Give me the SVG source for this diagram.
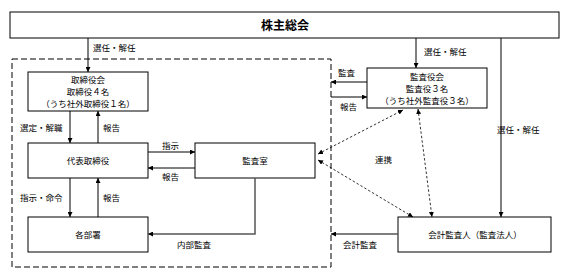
<svg xmlns="http://www.w3.org/2000/svg" width="569" height="274" viewBox="0 0 569 274">
<style>
.box{fill:#fff;stroke:#000;stroke-width:1}
.t{font-family:"Noto Sans CJK JP","Noto Sans CJK SC",sans-serif;font-size:8.5px;fill:#000}
.c{text-anchor:middle}
.ln{fill:none;stroke:#000;stroke-width:1}
.gr{fill:none;stroke:#555;stroke-width:1.5}
.dot{fill:none;stroke:#000;stroke-width:0.8;stroke-dasharray:2.5,2}
.dash{fill:none;stroke:#000;stroke-width:1;stroke-dasharray:6,3}
</style>
<defs>
<marker id="ah" viewBox="0 0 10 10" refX="10" refY="5" markerWidth="5" markerHeight="5" orient="auto-start-reverse" markerUnits="userSpaceOnUse">
<path d="M0,0 L10,5 L0,10 z" fill="#000"/>
</marker>
</defs>
<rect class="dash" x="12" y="59" width="319" height="208"/>
<g id="shareholders"><rect class="box" x="10" y="12" width="549" height="26"/><text class="t c" x="285" y="29.5" style="font-size:12px;font-weight:bold">株主総会</text></g>
<g id="board"><rect class="box" x="28" y="72" width="120" height="39"/>
<text class="t c" x="88" y="83">取締役会</text><text class="t c" x="88" y="95">取締役４名</text><text class="t c" x="88" y="107">（うち社外取締役１名）</text></g>
<g id="auditboard"><rect class="box" x="367" y="68" width="120" height="40"/>
<text class="t c" x="427" y="80">監査役会</text><text class="t c" x="427" y="92">監査役３名</text><text class="t c" x="427" y="104">（うち社外監査役３名）</text></g>
<g id="ceo"><rect class="box" x="28" y="143" width="120" height="35"/><text class="t c" x="88" y="163.5">代表取締役</text></g>
<g id="auditoffice"><rect class="box" x="195" y="143" width="120" height="35"/><text class="t c" x="255" y="163.5">監査室</text></g>
<g id="depts"><rect class="box" x="28" y="217" width="120" height="35"/><text class="t c" x="88" y="237.5">各部署</text></g>
<g id="accountant"><rect class="box" x="398" y="217" width="153" height="35"/><text class="t c" x="475" y="237.5">会計監査人（監査法人）</text></g>
<g id="connectors">
<path class="ln" d="M88,38 V72" marker-end="url(#ah)"/>
<path class="ln" d="M416,38 V68" marker-end="url(#ah)"/>
<path class="ln" d="M501,38 V217" marker-end="url(#ah)"/>
<path class="ln" d="M367,82 H331" marker-end="url(#ah)"/>
<path class="ln" d="M331,97 H367" marker-end="url(#ah)"/>
<path class="ln" d="M70,111 V143" marker-end="url(#ah)"/>
<path class="ln" d="M98,143 V111" marker-end="url(#ah)"/>
<path class="ln" d="M148,152 H195" marker-end="url(#ah)"/>
<path class="ln" d="M195,168 H148" marker-end="url(#ah)"/>
<path class="ln" d="M70,178 V217" marker-end="url(#ah)"/>
<path class="ln" d="M98,217 V178" marker-end="url(#ah)"/>
<path class="gr" d="M255,178 V234 H148" marker-end="url(#ah)"/>
<path class="gr" d="M398,234 H331" marker-end="url(#ah)"/>
<path class="dot" d="M318,154 L403,110" marker-start="url(#ah)" marker-end="url(#ah)"/>
<path class="dot" d="M318,160 L413,217" marker-start="url(#ah)" marker-end="url(#ah)"/>
<path class="dot" d="M418,109 L432,217" marker-start="url(#ah)" marker-end="url(#ah)"/>
<text class="t" x="93" y="51">選任・解任</text>
<text class="t" x="424" y="55">選任・解任</text>
<text class="t" x="497" y="133">選任・解任</text>
<text class="t" x="338" y="76">監査</text>
<text class="t" x="340" y="110">報告</text>
<text class="t" x="20" y="131">選定・解職</text>
<text class="t" x="103" y="131">報告</text>
<text class="t" x="162" y="149">指示</text>
<text class="t" x="162" y="180">報告</text>
<text class="t" x="20" y="201">指示・命令</text>
<text class="t" x="103" y="201">報告</text>
<text class="t" x="177" y="248">内部監査</text>
<text class="t" x="343" y="248">会計監査</text>
<text class="t" x="375" y="163">連携</text>
</g>
</svg>
